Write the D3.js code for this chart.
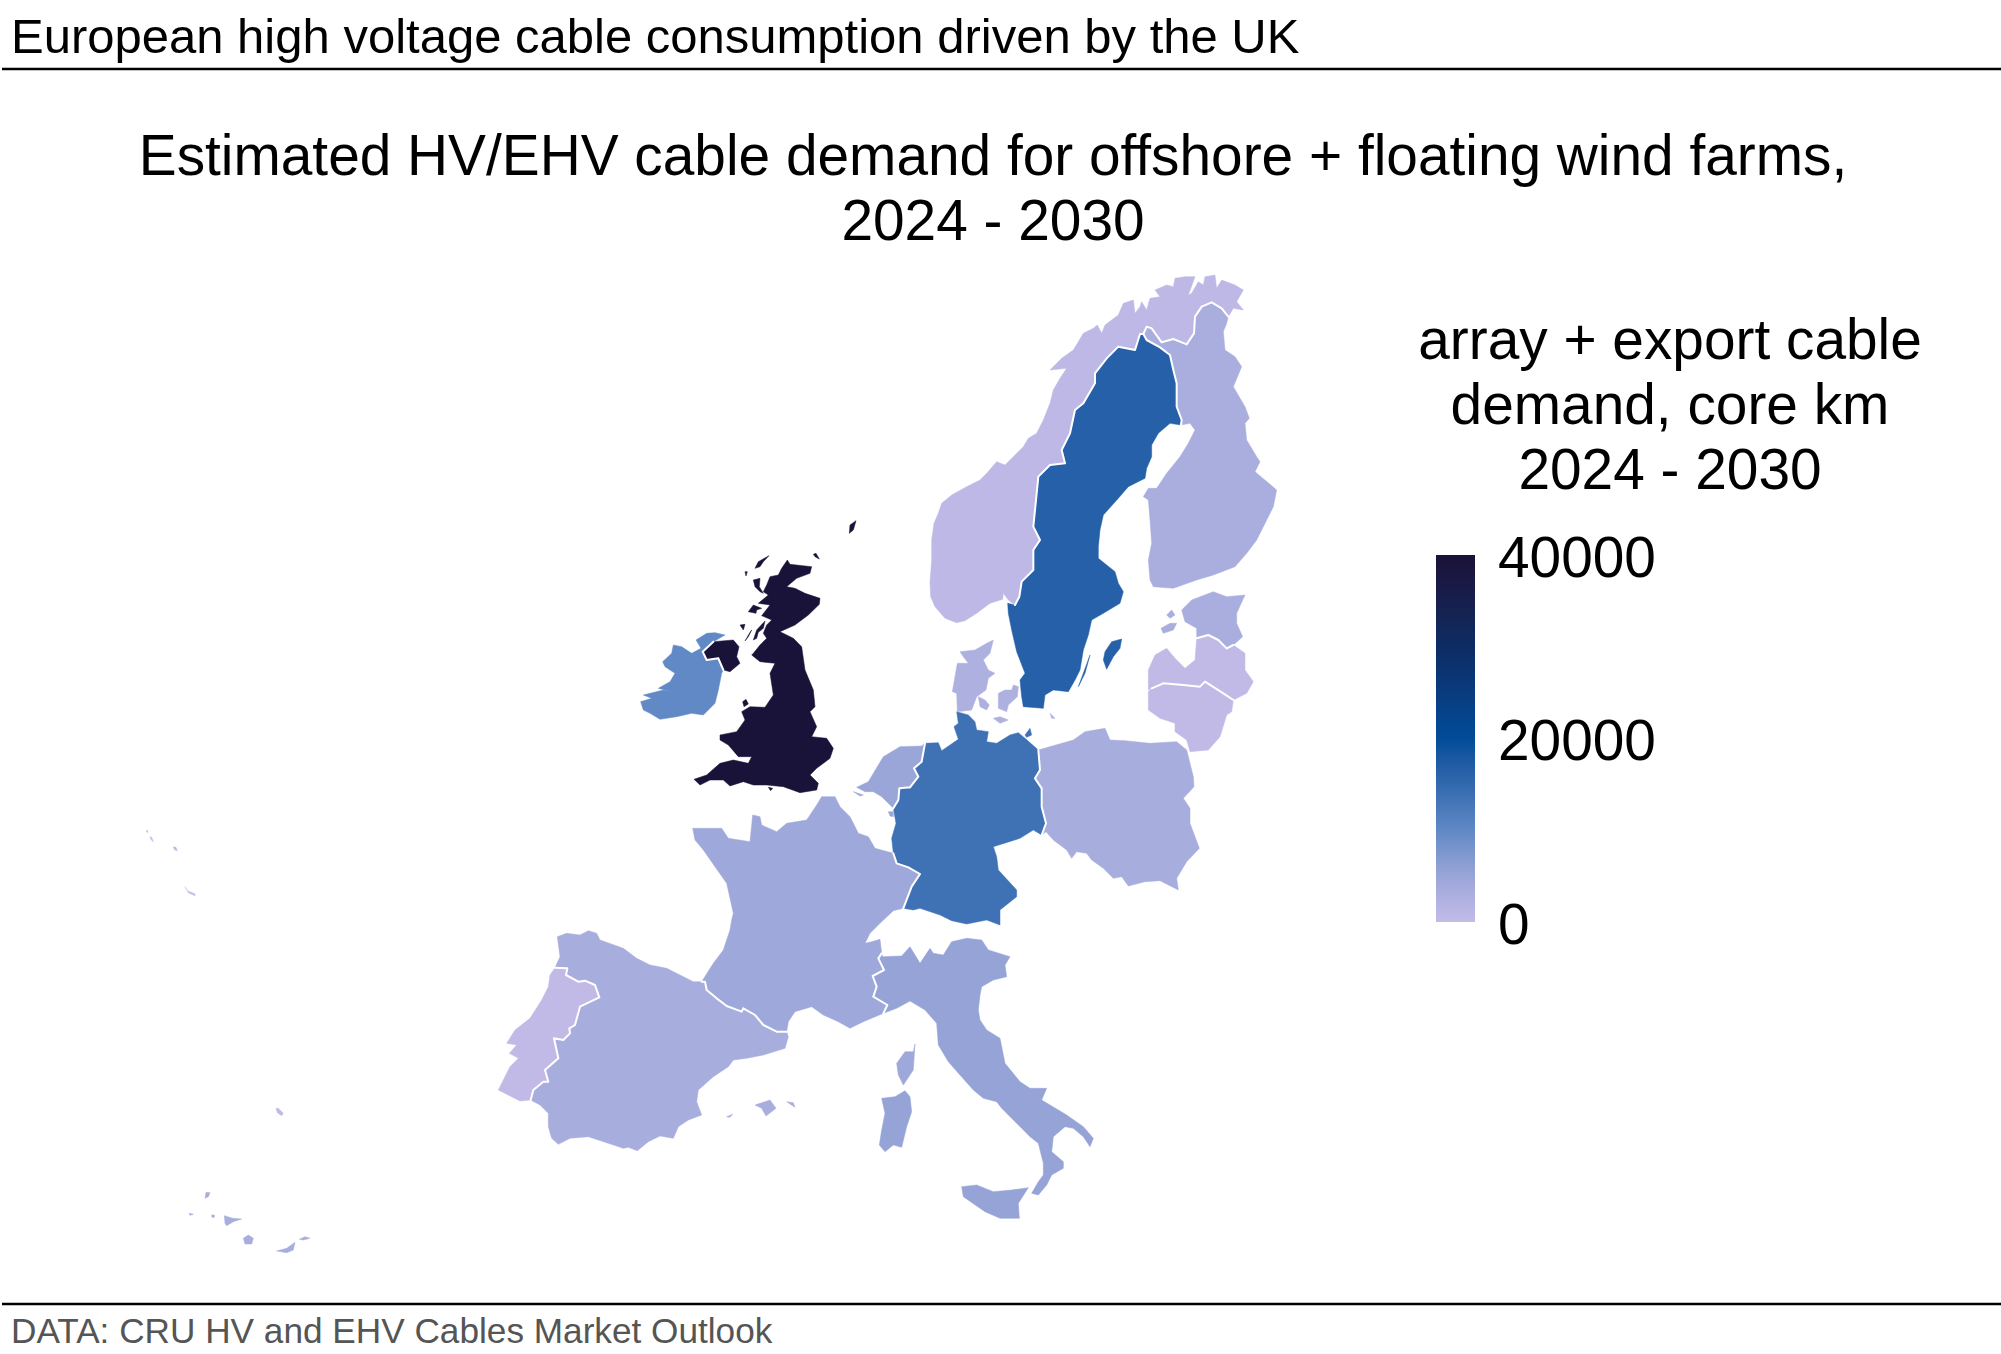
<!DOCTYPE html>
<html>
<head>
<meta charset="utf-8">
<script src="https://cdn.jsdelivr.net/npm/d3@7/dist/d3.min.js"></script>
<style>
html,body{margin:0;padding:0;background:#fff}
svg{display:block}
text{font-family:"Liberation Sans",Arial,sans-serif}
</style>
</head>
<body>
<svg id="chart" width="2001" height="1354"></svg>
<script>
// ---- chart text ----
const headerText = "European high voltage cable consumption driven by the UK";
const titleLines = ["Estimated HV/EHV cable demand for offshore + floating wind farms,", "2024 - 2030"];
const legendLines = ["array + export cable", "demand, core km", "2024 - 2030"];
const footerText = "DATA: CRU HV and EHV Cables Market Outlook";

// ---- values (core km, estimated from the fill colours) ----
const countries = ["United Kingdom","Ireland","Germany","Sweden","Netherlands","Italy","France","Spain","Poland","Finland","Estonia","Denmark","Norway","Latvia","Lithuania","Portugal"];
const demand    = [39800,10000,13500,16500,5000,5500,4500,3400,3400,3200,3200,2600,800,200,200,200];
const colourDomain = [0,5000,10000,15000,20000,30000,40000];
const colourRange = ["#C3BBE8","#9AA6D8","#6089C6","#2F69AE","#004C99","#0C2C63","#1A1238"];
const legendTicks = [0,20000,40000];

// ---- outlines: planar map-grid rings, per survey sheet ----
const sheetA=[880,260], sheetB=[620,500], sheetC=[840,680], sheetD=[480,900], sheetE=[830,920], sheetF=[100,760];

const norwayMain=[[230,1088],[195,1075],[165,1040],[152,1010],[150,965],[155,900],[155,840],[162,790],[175,760],[185,730],[215,705],[260,680],[300,660],[320,640],[350,605],[375,615],[400,590],[430,560],[445,535],[470,520],[490,480],[510,430],[520,390],[540,355],[560,325],[510,330],[545,295],[580,270],[595,245],[610,220],[640,205],[652,195],[665,220],[675,195],[715,165],[730,130],[760,120],[765,160],[780,140],[785,125],[800,150],[810,115],[840,110],[825,90],[860,75],[880,80],[885,55],[915,50],[945,50],[925,105],[935,100],[955,65],[970,75],[975,50],[1005,45],[1010,85],[1025,60],[1065,75],[1090,90],[1070,125],[1090,150],[1060,145],[1045,170],[1025,145],[995,127],[965,140],[945,170],[942,220],[920,253],[880,237],[845,247],[815,205],[800,200],[790,222],[780,222],[765,270],[715,260],[680,295],[645,340],[645,370],[610,430],[585,450],[570,520],[545,570],[555,610],[510,615],[475,650],[470,700],[460,800],[480,840],[460,870],[460,930],[425,965],[418,1010],[405,1035],[385,1020],[370,1000],[368,1018],[330,1030],[290,1060],[255,1082]];

const swedenMain=[[780,222],[790,222],[800,240],[840,262],[870,285],[880,330],[890,370],[890,440],[905,480],[903,495],[870,490],[835,520],[815,555],[815,590],[800,625],[795,655],[745,680],[715,715],[670,765],[660,810],[655,860],[655,895],[680,915],[705,935],[715,970],[730,995],[720,1030],[670,1060],[635,1080],[625,1125],[610,1170],[600,1230],[585,1260],[565,1295],[520,1290],[495,1305],[490,1345],[430,1340],[425,1310],[420,1260],[435,1240],[410,1175],[395,1110],[385,1060],[383,1030],[405,1035],[418,1010],[425,965],[460,930],[460,870],[480,840],[460,800],[470,700],[475,650],[510,615],[555,610],[545,570],[570,520],[585,450],[610,430],[645,370],[645,340],[680,295],[715,260],[765,270]];
const swedenIsles=[[[630,1185],[610,1240],[595,1280],[615,1240]],[[725,1137],[695,1145],[675,1175],[670,1200],[680,1228],[700,1190],[720,1165]]];

const finlandMain=[[800,200],[815,205],[845,247],[880,237],[920,253],[942,220],[945,170],[965,140],[995,127],[1025,145],[1045,170],[1040,190],[1030,215],[1035,270],[1065,290],[1085,320],[1060,380],[1095,440],[1108,475],[1095,490],[1100,540],[1130,590],[1140,605],[1125,635],[1190,690],[1180,740],[1160,780],[1130,840],[1100,880],[1065,920],[1000,945],[950,960],[880,985],[820,980],[810,960],[805,900],[815,850],[810,780],[805,720],[790,710],[805,685],[830,685],[860,640],[900,590],[925,550],[945,510],[930,490],[903,495],[905,480],[890,440],[890,370],[880,330],[870,285],[840,262],[800,240],[790,222]];

const estoniaMain=[[905,1050],[935,1020],[1000,995],[1040,1010],[1095,1005],[1070,1060],[1070,1090],[1088,1130],[1060,1155],[1040,1165],[1015,1140],[985,1125],[950,1135],[950,1105],[915,1085]];
const estoniaIsles=[[[860,1065],[875,1050],[885,1065],[870,1075]],[[843,1105],[870,1090],[890,1090],[880,1110],[850,1120]]];
const latviaMain=[[805,1290],[805,1230],[825,1185],[860,1165],[885,1195],[915,1225],[945,1200],[950,1135],[985,1125],[1015,1140],[1040,1165],[1060,1155],[1095,1180],[1095,1230],[1120,1265],[1100,1300],[1060,1320],[1030,1300],[975,1265],[960,1280],[910,1275],[850,1270],[815,1285]];
const lithuaniaMain=[[805,1295],[815,1285],[850,1270],[910,1275],[960,1280],[975,1265],[1030,1300],[1060,1320],[1055,1355],[1040,1365],[1020,1430],[985,1470],[930,1475],[920,1440],[885,1415],[885,1390],[840,1375],[805,1350]];

const denmarkMain=[[232,1355],[230,1300],[217,1295],[232,1210],[265,1210],[250,1190],[240,1175],[285,1170],[320,1150],[340,1140],[330,1180],[310,1200],[325,1230],[345,1240],[325,1255],[318,1290],[290,1310],[275,1350]];
const denmarkIsles=[[[295,1310],[315,1320],[328,1335],[320,1350],[300,1340]],[[355,1300],[375,1290],[395,1290],[400,1275],[415,1280],[412,1310],[385,1335],[380,1355],[355,1345]],[[340,1375],[360,1370],[385,1380],[360,1390]],[[510,1360],[525,1375],[515,1375]]];

const germanyMain=[[255,190],[295,188],[305,212],[330,195],[355,178],[342,140],[355,130],[350,95],[385,105],[405,125],[410,150],[445,155],[440,185],[470,190],[510,165],[535,158],[555,175],[595,210],[600,270],[585,295],[605,325],[605,380],[618,430],[605,465],[580,450],[540,475],[460,500],[470,530],[475,570],[530,630],[530,650],[480,690],[480,735],[440,720],[380,732],[335,722],[300,705],[240,685],[220,690],[190,685],[215,620],[240,582],[205,562],[170,550],[160,520],[155,475],[168,430],[160,385],[175,360],[178,325],[210,322],[235,290],[222,265],[245,245]];
const germanyIsles=[[[555,165],[570,145],[575,165],[560,172]]];
const netherlandsMain=[[50,322],[85,305],[130,230],[180,200],[245,198],[255,190],[245,245],[222,265],[235,290],[210,322],[178,325],[175,360],[160,385],[125,350],[100,335],[75,335]];
const netherlandsIsles=[[[40,335],[70,345],[60,348]],[[145,395],[160,395],[160,410],[150,408]]];
const polandMain=[[595,210],[700,180],[735,155],[795,145],[810,180],[855,182],[930,190],[1010,185],[1040,210],[1060,290],[1062,320],[1030,355],[1050,385],[1050,430],[1078,505],[1040,545],[1010,595],[1015,630],[960,602],[915,605],[865,618],[845,590],[820,595],[790,565],[755,540],[740,520],[710,515],[695,535],[680,510],[640,480],[618,455],[605,465],[618,430],[605,380],[605,325],[585,295],[600,270]];

const franceMain=[[218,985],[260,985],[305,985],[325,1015],[390,1025],[398,945],[420,950],[425,975],[470,995],[500,970],[560,960],[590,915],[605,890],[645,890],[660,920],[690,950],[715,1000],[745,1010],[765,1045],[820,1060],[830,1090],[865,1102],[900,1122],[875,1160],[850,1225],[820,1232],[780,1270],[750,1300],[735,1330],[755,1325],[780,1318],[785,1360],[775,1375],[792,1410],[758,1428],[770,1460],[760,1490],[802,1515],[790,1540],[730,1565],[690,1585],[655,1565],[610,1545],[575,1520],[525,1535],[505,1565],[500,1595],[470,1595],[430,1575],[405,1545],[370,1525],[365,1535],[320,1518],[290,1495],[260,1470],[255,1445],[245,1445],[280,1390],[310,1350],[330,1290],[335,1260],[340,1240],[320,1150],[285,1100],[250,1050],[225,1020]];
const corsica=[[1305,432],[1300,455],[1275,455],[1250,490],[1255,525],[1270,555],[1300,510]];

const spainMain=[[232,110],[260,100],[300,105],[325,92],[350,100],[360,120],[430,145],[470,175],[510,195],[560,205],[600,225],[640,245],[665,245],[675,245],[680,270],[710,295],[740,318],[785,335],[790,325],[825,345],[850,375],[890,395],[920,395],[925,410],[915,445],[850,465],[800,475],[760,480],[745,500],[700,530],[655,570],[650,605],[665,645],[625,660],[595,680],[580,715],[540,708],[505,725],[472,752],[445,742],[430,745],[385,730],[325,710],[270,715],[235,733],[215,715],[205,680],[205,640],[180,615],[152,600],[160,570],[190,545],[205,545],[195,510],[235,475],[222,415],[250,420],[270,400],[268,385],[285,375],[300,320],[358,292],[345,255],[315,242],[295,245],[258,225],[262,205],[225,203],[240,170]];
const balearics=[[[825,615],[870,600],[888,625],[858,648],[845,625]],[[920,605],[940,608],[945,622],[930,612]],[[740,650],[758,643],[750,652]]];
const canaries=[[[315,1315],[318,1297],[330,1298],[325,1310]],[[335,1365],[343,1365],[343,1372],[336,1372]],[[267,1360],[280,1363],[270,1366]],[[373,1367],[398,1375],[425,1377],[400,1385],[380,1397],[375,1390]],[[430,1435],[445,1425],[460,1435],[455,1452],[435,1452]],[[530,1473],[560,1465],[585,1447],[580,1470],[560,1478]],[[598,1438],[615,1430],[630,1435],[610,1440]]];
const portugalMain=[[225,203],[262,205],[258,225],[295,245],[315,242],[345,255],[358,292],[300,320],[285,375],[268,385],[270,400],[250,420],[222,415],[235,475],[195,510],[205,545],[190,545],[160,570],[152,600],[120,603],[55,570],[90,500],[115,475],[88,460],[110,435],[80,430],[105,390],[150,355],[185,300],[205,260],[210,225]];
const atlanticIsles=[[[528,1045],[535,1045],[550,1060],[545,1067],[532,1058]],[[255,380],[262,392],[285,402],[285,407],[265,398]],[[220,260],[228,262],[232,272],[224,270]],[[150,230],[155,232],[160,245],[154,240]],[[138,212],[144,212],[143,218]]];

const italyMain=[[155,100],[158,110],[215,108],[240,80],[270,130],[300,85],[310,100],[340,105],[365,65],[410,55],[455,60],[475,90],[540,110],[525,135],[530,170],[490,180],[455,200],[450,225],[445,270],[450,300],[470,330],[510,355],[525,430],[570,485],[600,505],[650,505],[635,540],[710,585],[760,620],[790,655],[780,680],[760,650],[730,625],[705,620],[670,650],[665,695],[700,725],[700,745],[665,765],[650,795],[625,825],[605,820],[625,785],[640,765],[640,730],[625,670],[600,650],[575,625],[545,595],[515,565],[500,545],[460,535],[430,510],[390,465],[355,425],[325,375],[320,310],[285,270],[240,243],[200,265],[160,280],[172,255],[130,230],[140,200],[128,168],[162,150],[145,115]];
const sicily=[[395,800],[440,795],[490,815],[545,810],[595,803],[565,850],[568,895],[510,895],[465,875],[400,830]];
const sardinia=[[1205,595],[1245,590],[1275,572],[1290,590],[1295,635],[1280,680],[1265,742],[1240,735],[1215,755],[1198,735],[1205,690],[1215,640]];

const britainMain=[[222,838],[260,825],[300,790],[340,780],[385,790],[395,770],[355,770],[325,735],[300,720],[300,705],[350,695],[375,660],[365,635],[390,620],[435,622],[460,585],[450,520],[465,490],[420,485],[395,465],[400,460],[420,435],[440,415],[430,400],[440,375],[455,360],[425,347],[450,315],[415,310],[445,285],[430,275],[440,255],[450,230],[475,225],[485,205],[502,180],[510,193],[575,200],[570,220],[530,235],[500,260],[525,265],[555,280],[600,295],[598,313],[565,345],[525,375],[480,395],[520,415],[545,440],[555,510],[580,570],[585,620],[570,635],[590,680],[575,710],[620,715],[640,745],[630,775],[590,805],[570,825],[595,850],[590,870],[540,878],[490,860],[440,855],[400,855],[370,845],[330,858],[310,840],[270,840],[240,855]];
const northernIreland=[[248,455],[280,425],[340,420],[357,440],[350,470],[360,490],[330,515],[310,510],[295,475],[260,480]];
const britainIsles=[[[405,205],[415,185],[447,167],[430,185],[420,200]],[[375,215],[382,215],[378,228]],[[400,240],[420,235],[418,260],[430,280],[420,275],[405,260]],[[385,335],[400,315],[425,325],[410,330],[408,340]],[[360,375],[375,373],[370,390]],[[375,423],[390,397],[395,390],[385,410]],[[400,420],[410,390],[435,363],[430,385],[415,397],[410,415]],[[580,163],[588,160],[598,177],[585,170]],[[690,75],[708,62],[700,90],[688,100]],[[368,605],[378,598],[385,612],[372,620]],[[445,862],[458,865],[452,872]]];
const irelandMain=[[62,605],[95,595],[70,585],[130,570],[155,575],[115,565],[150,545],[165,520],[135,500],[128,485],[155,460],[160,435],[185,440],[215,460],[243,445],[228,420],[260,400],[285,398],[315,405],[280,425],[248,455],[260,480],[295,475],[310,510],[305,520],[295,570],[285,610],[250,645],[215,640],[170,650],[120,658],[90,640],[70,630]];

// ---- assemble features ----
const toGrid = (sheet, ring) => ring.map(p => [sheet[0] + p[0]/3, sheet[1] + p[1]/3]);
const closeRing = r => r.concat([r[0]]);
const poly = (sheet, ring) => [closeRing(toGrid(sheet, ring))];
const outlines = {
  "United Kingdom": {main:[poly(sheetB,britainMain),poly(sheetB,northernIreland)], isles:britainIsles.map(r=>poly(sheetB,r))},
  "Ireland":  {main:[poly(sheetB,irelandMain)], isles:[]},
  "Germany":  {main:[poly(sheetC,germanyMain)], isles:germanyIsles.map(r=>poly(sheetC,r))},
  "Sweden":   {main:[poly(sheetA,swedenMain)], isles:swedenIsles.map(r=>poly(sheetA,r))},
  "Netherlands":{main:[poly(sheetC,netherlandsMain)], isles:netherlandsIsles.map(r=>poly(sheetC,r))},
  "Italy":    {main:[poly(sheetE,italyMain)], isles:[poly(sheetE,sicily),poly(sheetD,sardinia)]},
  "France":   {main:[poly(sheetB,franceMain)], isles:[poly(sheetD,corsica)]},
  "Spain":    {main:[poly(sheetD,spainMain)], isles:balearics.map(r=>poly(sheetD,r)).concat(canaries.map(r=>poly(sheetF,r)))},
  "Poland":   {main:[poly(sheetC,polandMain)], isles:[]},
  "Finland":  {main:[poly(sheetA,finlandMain)], isles:[]},
  "Estonia":  {main:[poly(sheetA,estoniaMain)], isles:estoniaIsles.map(r=>poly(sheetA,r))},
  "Denmark":  {main:[poly(sheetA,denmarkMain)], isles:denmarkIsles.map(r=>poly(sheetA,r))},
  "Norway":   {main:[poly(sheetA,norwayMain)], isles:[]},
  "Latvia":   {main:[poly(sheetA,latviaMain)], isles:[]},
  "Lithuania":{main:[poly(sheetA,lithuaniaMain)], isles:[]},
  "Portugal": {main:[poly(sheetD,portugalMain)], isles:atlanticIsles.map(r=>poly(sheetF,r))}
};

// Land borders: segments that occur in the rings of two different countries.
const segKey = (a,b) => {
  const k = p => Math.round(p[0]*2)+","+Math.round(p[1]*2);
  const [x,y] = [k(a),k(b)];
  return x<y ? x+"|"+y : y+"|"+x;
};
const seen = new Map(), borderSegments = [];
countries.forEach(c => outlines[c].main.forEach(polygon => {
  const ring = polygon[0];
  d3.pairs(ring).forEach(([a,b]) => {
    const key = segKey(a,b);
    if (seen.has(key) && seen.get(key) !== c) borderSegments.push([a,b]);
    else seen.set(key,c);
  });
}));

const features = countries.map((c,i)=>({type:"Feature",properties:{name:c,value:demand[i]},
  geometry:{type:"MultiPolygon",coordinates:outlines[c].main.concat(outlines[c].isles)}}));

// ---- drawing ----
const svg = d3.select("#chart");
const colour = d3.scaleLinear().domain(colourDomain).range(colourRange).interpolate(d3.interpolateLab);
const path = d3.geoPath(d3.geoIdentity());

svg.append("g").selectAll("path").data(features).join("path")
  .attr("d",path).attr("fill",d=>colour(d.properties.value))
  .attr("stroke",d=>colour(d.properties.value)).attr("stroke-width",0.5).attr("stroke-linejoin","round");
svg.append("path").datum({type:"MultiLineString",coordinates:borderSegments})
  .attr("d",path).attr("fill","none").attr("stroke","#fff").attr("stroke-width",2).attr("stroke-linecap","round");

// header / footer
svg.append("text").attr("x",11).attr("y",53).attr("font-size",49).attr("fill","#000").text(headerText);
svg.append("line").attr("x1",2).attr("x2",2001).attr("y1",69).attr("y2",69).attr("stroke","#000").attr("stroke-width",2.4);
svg.append("line").attr("x1",2).attr("x2",2001).attr("y1",1304).attr("y2",1304).attr("stroke","#000").attr("stroke-width",2.4);
svg.append("text").attr("x",11).attr("y",1343).attr("font-size",35.2).attr("fill","#555").text(footerText);

// title
svg.append("g").selectAll("text").data(titleLines).join("text")
  .attr("x",993).attr("y",(d,i)=>175+i*65).attr("text-anchor","middle").attr("font-size",56.8).attr("fill","#000").text(d=>d);

// legend
svg.append("g").selectAll("text").data(legendLines).join("text")
  .attr("x",1670).attr("y",(d,i)=>359+i*65).attr("text-anchor","middle").attr("font-size",56.8).attr("fill","#000").text(d=>d);

const legendY = d3.scaleLinear().domain([0,40000]).range([922,555]);
const grad = svg.append("defs").append("linearGradient").attr("id","cbar")
  .attr("x1",0).attr("x2",0).attr("y1",1).attr("y2",0);
d3.range(0,40001,2000).forEach(v=>grad.append("stop").attr("offset",v/40000).attr("stop-color",colour(v)));
svg.append("rect").attr("x",1436).attr("width",39).attr("y",legendY(40000)).attr("height",legendY(0)-legendY(40000)).attr("fill","url(#cbar)");

const axis = d3.axisRight(legendY).tickValues(legendTicks).tickSize(0).tickPadding(23).tickFormat(d3.format("d"));
const ag = svg.append("g").attr("transform","translate(1475,0)").call(axis);
ag.select(".domain").remove();
ag.selectAll("text").attr("font-size",56.8).attr("font-family",'"Liberation Sans",Arial,sans-serif').attr("fill","#000").attr("dy","0.37em");
</script>
</body>
</html>
